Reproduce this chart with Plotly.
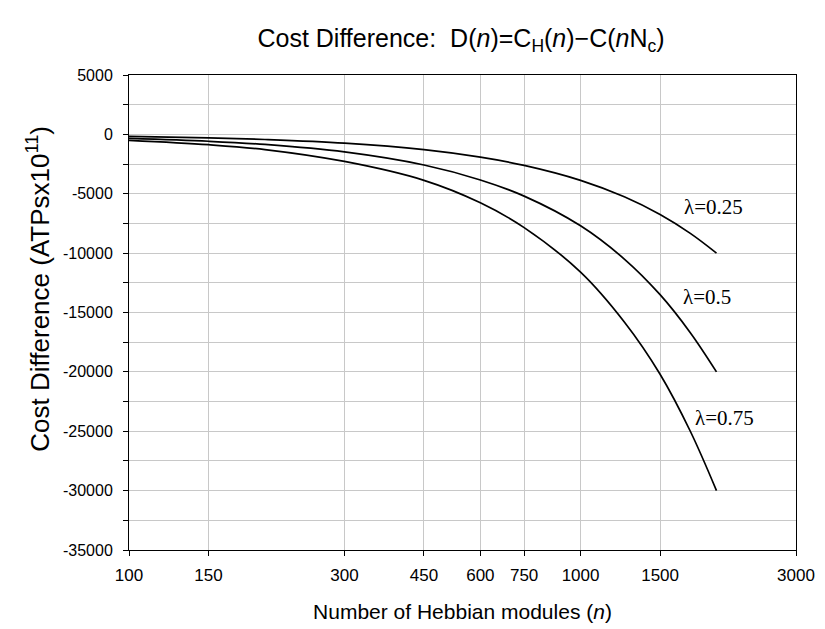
import plotly.graph_objects as go

n_values = [100, 150, 200, 300, 450, 600, 750, 1000, 1250, 1500, 1750, 2000]
d_lambda_025 = [-170, -290, -430, -740, -1290, -1920, -2610, -3870, -5260, -6750, -8340, -10000]
d_lambda_050 = [-340, -580, -850, -1480, -2580, -3840, -5200, -7700, -10500, -13500, -16700, -20000]
d_lambda_075 = [-500, -870, -1280, -2280, -3870, -5760, -7850, -11600, -15800, -20200, -25000, -30000]
series_labels = ["λ=0.25", "λ=0.5", "λ=0.75"]
x_tick_vals = [100, 150, 300, 450, 600, 750, 1000, 1500, 3000]
y_tick_vals = [5000, 0, -5000, -10000, -15000, -20000, -25000, -30000, -35000]

fig = go.Figure()
for ys, name in zip([d_lambda_025, d_lambda_050, d_lambda_075], series_labels):
    fig.add_trace(go.Scatter(x=n_values, y=ys, mode="lines", name=name,
                             line=dict(color="black", width=1.7, shape="spline", smoothing=1.0),
                             showlegend=False))

label_font = dict(family="Liberation Serif", size=21, color="black")
fig.add_annotation(x=3.295, y=-6150, xref="x", yref="y", text=series_labels[0],
                   showarrow=False, font=label_font)
fig.add_annotation(x=3.281, y=-13700, xref="x", yref="y", text=series_labels[1],
                   showarrow=False, font=label_font)
fig.add_annotation(x=3.318, y=-23900, xref="x", yref="y", text=series_labels[2],
                   showarrow=False, font=label_font)

# y-axis title
fig.add_annotation(x=-0.135, y=0.55, xref="paper", yref="paper", xanchor="center", yanchor="middle",
                   text="Cost Difference (ATPsx10<sup>11</sup>)", textangle=-90, showarrow=False,
                   font=dict(family="Liberation Sans", size=26, color="black"))

fig.update_layout(
    width=817, height=621,
    margin=dict(l=121, r=10, t=67, b=78),
    plot_bgcolor="white", paper_bgcolor="white",
    font=dict(family="Liberation Sans", color="black"),
    title=dict(text="Cost Difference:&nbsp; D(<i>n</i>)=C<sub>H</sub>(<i>n</i>)−C(<i>n</i>N<sub>c</sub>)",
               x=0.5545, xanchor="center", y=0.952, yanchor="middle",
               font=dict(family="Liberation Sans", size=25, color="black")),
)
fig.update_xaxes(
    type="log", range=[2, 3.4771], tickvals=x_tick_vals, ticktext=[str(v) for v in x_tick_vals],
    showgrid=True, gridcolor="#c8c8c8", gridwidth=1,
    showline=True, linecolor="black", linewidth=1, mirror=True,
    ticks="outside", ticklen=5, tickcolor="black", ticklabelstandoff=5,
    ticklabeloverflow="allow",
    tickfont=dict(size=17),
    title=dict(text="Number of Hebbian modules (<i>n</i>)", font=dict(size=21), standoff=19),
    zeroline=False,
)
fig.update_yaxes(
    range=[-35000, 5000], tickvals=y_tick_vals, ticktext=[str(v) for v in y_tick_vals],
    showgrid=True, gridcolor="#c8c8c8", gridwidth=1,
    minor=dict(dtick=2500, tick0=0, ticks="outside", ticklen=5, tickcolor="black",
               showgrid=True, gridcolor="#c8c8c8"),
    showline=True, linecolor="black", linewidth=1, mirror=True,
    ticks="outside", ticklen=5, tickcolor="black", ticklabelstandoff=7,
    tickfont=dict(size=16),
    zeroline=False,
)
fig.write_html("out.html")
